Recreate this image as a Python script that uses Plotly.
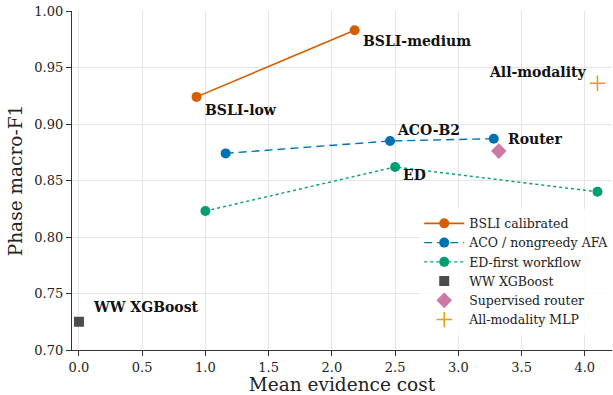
import plotly.graph_objects as go

bsli_x = [0.93, 2.18]
bsli_y = [0.924, 0.983]
aco_x = [1.16, 2.46, 3.28]
aco_y = [0.874, 0.885, 0.887]
ed_x = [1.0, 2.5, 4.1]
ed_y = [0.823, 0.862, 0.840]
ww_x = [0.0]
ww_y = [0.725]
router_x = [3.32]
router_y = [0.876]
mlp_x = [4.1]
mlp_y = [0.936]

labels = [
    ("BSLI-low", bsli_x[0], bsli_y[0], 6, -13, "left"),
    ("BSLI-medium", bsli_x[1], bsli_y[1], 6, -11, "left"),
    ("ACO-B2", aco_x[1], aco_y[1], 5, 11, "left"),
    ("Router", aco_x[2], aco_y[2], 12, 0, "left"),
    ("ED", ed_x[1], ed_y[1], 6, -8, "left"),
    ("All-modality", mlp_x[0], mlp_y[0], -9, 11, "right"),
    ("WW XGBoost", ww_x[0], ww_y[0], 12, 15, "left"),
]

FONT = "DejaVu Serif"
fig = go.Figure()
fig.add_trace(go.Scatter(x=bsli_x, y=bsli_y, mode="lines+markers", name="BSLI calibrated",
                         line=dict(color="#D55E00", width=1.6), marker=dict(size=10, color="#D55E00")))
fig.add_trace(go.Scatter(x=aco_x, y=aco_y, mode="lines+markers", name="ACO / nongreedy AFA",
                         line=dict(color="#0072B2", width=1.4, dash="8px,5px"), marker=dict(size=10, color="#0072B2")))
fig.add_trace(go.Scatter(x=ed_x, y=ed_y, mode="lines+markers", name="ED-first workflow",
                         line=dict(color="#009E73", width=1.4, dash="dot"), marker=dict(size=10, color="#009E73")))
fig.add_trace(go.Scatter(x=ww_x, y=ww_y, mode="markers", name="WW XGBoost",
                         marker=dict(size=10, symbol="square", color="#4D4D4D")))
fig.add_trace(go.Scatter(x=router_x, y=router_y, mode="markers", name="Supervised router",
                         marker=dict(size=12, symbol="diamond", color="#CC79A7")))
fig.add_trace(go.Scatter(x=mlp_x, y=mlp_y, mode="markers", name="All-modality MLP",
                         marker=dict(size=11, symbol="cross-thin", color="#E69F00",
                                     line=dict(width=1.5, color="#E69F00"))))

for text, x, y, dx, dy, align in labels:
    fig.add_annotation(x=x, y=y, text="<b>" + text + "</b>", showarrow=False,
                       xanchor=align, yanchor="middle", xshift=dx, yshift=dy,
                       font=dict(family=FONT, size=14, color="#111111"))

fig.update_layout(
    width=613, height=395,
    margin=dict(l=72, r=1, t=11, b=45, autoexpand=False),
    plot_bgcolor="white", paper_bgcolor="white",
    font=dict(family=FONT, size=13, color="#222222"),
    showlegend=True,
    legend=dict(x=0.643, y=0.045, xanchor="left", yanchor="bottom",
                bgcolor="rgba(255,255,255,0.85)", borderwidth=0,
                font=dict(family=FONT, size=12.5), tracegroupgap=0, itemwidth=40),
)
fig.update_xaxes(range=[-0.055, 4.215], tickvals=[0, 0.5, 1, 1.5, 2, 2.5, 3, 3.5, 4],
                 ticktext=["0.0", "0.5", "1.0", "1.5", "2.0", "2.5", "3.0", "3.5", "4.0"],
                 showgrid=True, gridcolor="#E5E5E5", gridwidth=1, zeroline=False, automargin=False,
                 showline=True, linecolor="#333333", linewidth=1.2, ticks="outside", ticklen=5,
                 tickcolor="#333333",
                 title=dict(text="Mean evidence cost", font=dict(size=18.5), standoff=4))
fig.update_yaxes(range=[0.70, 1.00], tickvals=[0.70, 0.75, 0.80, 0.85, 0.90, 0.95, 1.00],
                 ticktext=["0.70", "0.75", "0.80", "0.85", "0.90", "0.95", "1.00"],
                 showgrid=True, gridcolor="#E5E5E5", gridwidth=1, zeroline=False, automargin=False,
                 showline=True, linecolor="#333333", linewidth=1.2, ticks="outside", ticklen=5,
                 tickcolor="#333333",
                 title=dict(text="Phase macro-F1", font=dict(size=18.5), standoff=6))

fig.write_html("out.html", config={"displayModeBar": False},
               post_script="document.body.style.margin='0px';")
